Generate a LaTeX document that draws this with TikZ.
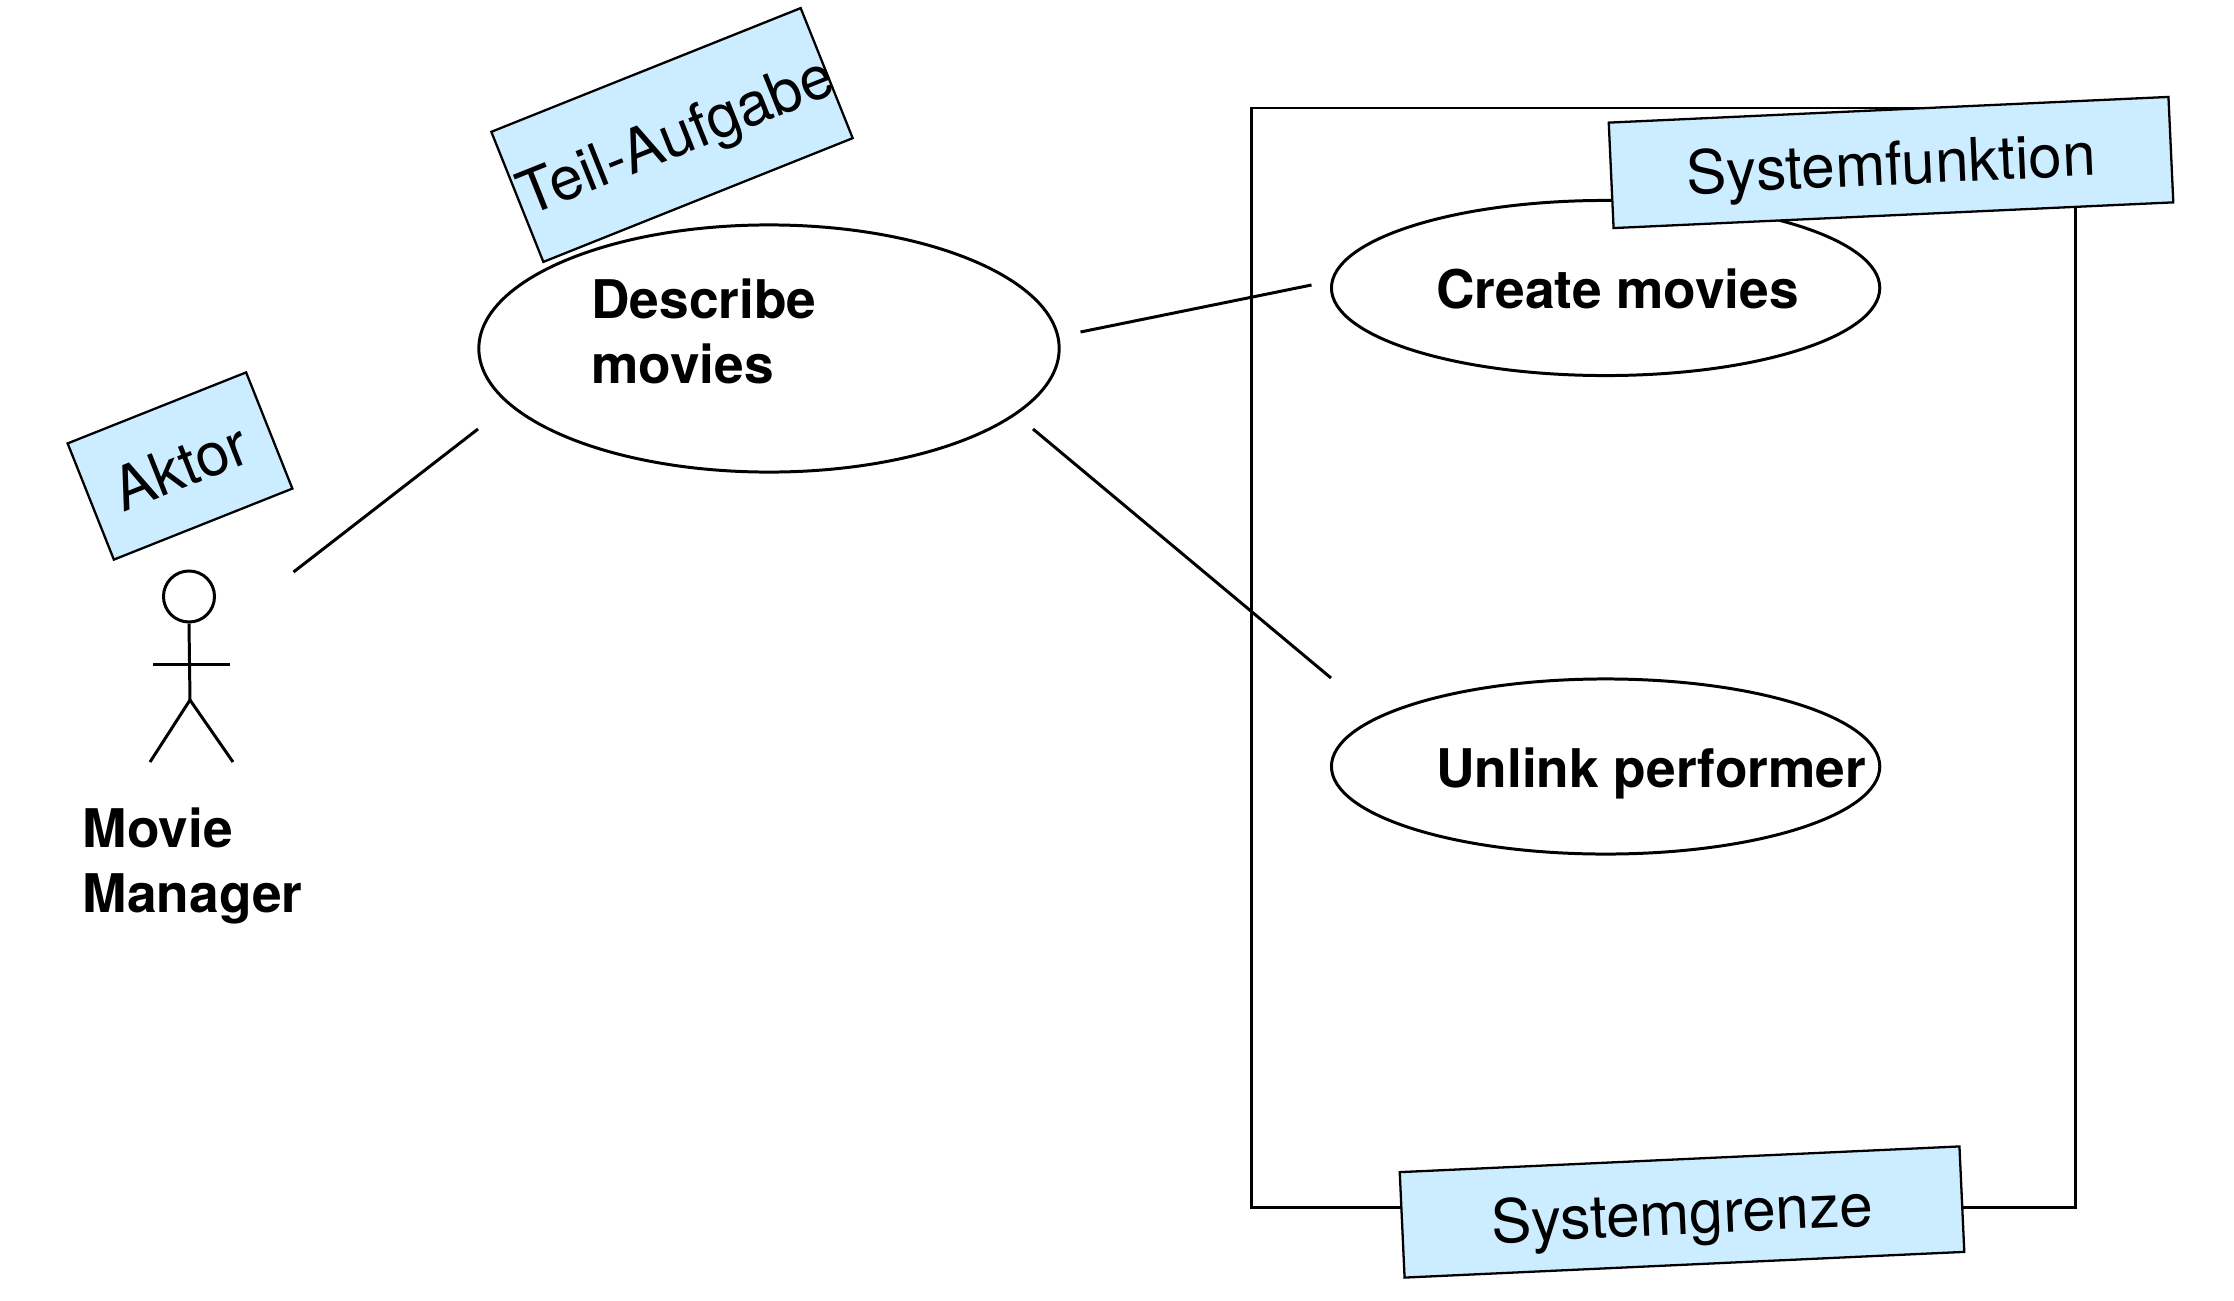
\documentclass[tikz,border=0pt]{standalone}
\usepackage{fontspec}
\setmainfont{TeX Gyre Heros}
\usepackage{tikz}
\usetikzlibrary{shapes.geometric}
\usepackage{xcolor}
\definecolor{notelight}{RGB}{204, 236, 255}

\tikzset{
  usecase/.style={draw,ellipse,fill=white,inner sep=0pt},
  notebox/.style={draw,fill=notelight,line width=0.65pt,inner sep=0pt,text height=0.57cm,text depth=0.125cm,font=\fontsize{17.1}{20}\selectfont},
  boldlabel/.style={inner sep=0pt,align=left,font=\fontsize{15.15}{18.35}\selectfont\bfseries}
}

\begin{document}
\begin{tikzpicture}[x=0.01cm,y=-0.01cm,line width=0.85pt]
\useasboundingbox (0,0) rectangle (2234,1300);
% system boundary
\draw (1251,108) rectangle (2075,1207);
% use cases
\node[usecase,minimum width=5.8cm,minimum height=2.47cm] (describe) at (769,348.5) {};
\node[usecase,minimum width=5.48cm,minimum height=1.75cm] (create) at (1605.6,288) {};
\node[usecase,minimum width=5.48cm,minimum height=1.75cm] (unlink) at (1605.6,766.5) {};
\node[boldlabel,anchor=base west] (describetext) at (590,383.5) {Describe\\movies};
\node[boldlabel,anchor=base west] (createtext) at (1434.5,308) {Create movies};
\node[boldlabel,anchor=base west] (unlinktext) at (1434.5,787) {Unlink performer};
% actor
\node[draw,circle,inner sep=0pt,minimum size=0.51cm] (head) at (189,596.5) {};
\coordinate (hip) at (190,700);
\coordinate (armleft) at (153,664);
\coordinate (armright) at (230,664);
\coordinate (footleft) at (150,762);
\coordinate (footright) at (233,762);
\draw (head.south) -- (hip);
\draw (armleft) -- (armright);
\draw (footleft) -- (hip) -- (footright);
\node[boldlabel,anchor=base west] (actortext) at (81.5,912) {Movie\\Manager};
% connectors
\coordinate (actorend) at (293.5,572);
\coordinate (describeleft) at (478,429);
\coordinate (describeright) at (1033,429);
\coordinate (describetop) at (1080.5,332);
\coordinate (createend) at (1311.5,285);
\coordinate (unlinkend) at (1331,678);
\draw (actorend) -- (describeleft);
\draw (describetop) -- (createend);
\draw (describeright) -- (unlinkend);
% notes
\node[notebox,rotate=21.8,minimum width=3.33cm,minimum height=1.4cm] (teil) at (672,135) {\makebox[0pt]{\hspace{0.07cm}Teil-Aufgabe}};
\node[notebox,rotate=21.7,minimum width=1.92cm,minimum height=1.25cm] (aktor) at (180,466) {Aktor};
\node[notebox,rotate=2.63,minimum width=5.6cm,minimum height=1.055cm] (funktion) at (1891,162.5) {Systemfunktion};
\node[notebox,rotate=2.63,minimum width=5.6cm,minimum height=1.055cm] (grenze) at (1682,1212) {Systemgrenze};
\end{tikzpicture}
\end{document}
